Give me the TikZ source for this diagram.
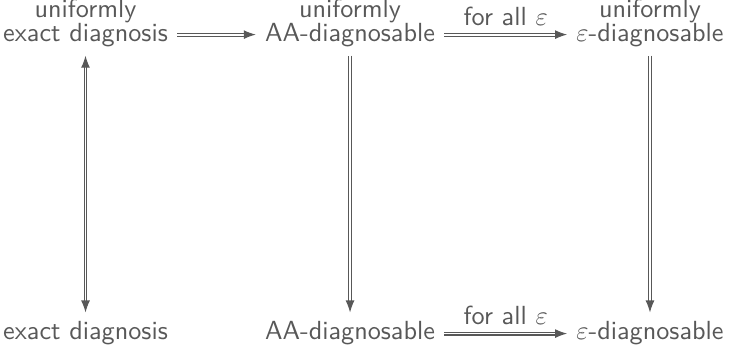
\documentclass[tikz,border=0pt]{standalone}
\usepackage{tikz}
\usepackage{amsmath, amsfonts}
\usetikzlibrary{arrows.meta}

\begin{document}
\begin{tikzpicture}
\definecolor{diagram_color}{RGB}{88,88,88}

\tikzset{
  cell_text/.style={font=\sffamily, text=diagram_color, anchor=base},
  top_text/.style={font=\sffamily, text=diagram_color, anchor=base, inner sep=0pt},
  implies_arrow/.style={draw=diagram_color, line width=0.4pt, double=white, double distance=0.7pt, -{Latex[length=4.6pt, width=3.4pt]}},
  iff_arrow/.style={implies_arrow, {Latex[length=4.6pt, width=3.4pt]}-{Latex[length=4.6pt, width=3.4pt]}}
}

\useasboundingbox (0.000000, 0.000000) rectangle (9.778000, 4.681000);

\node[top_text] (uniform_exact_word) at (1.147000, 4.440000) {uniformly};
\node[top_text] (uniform_aa_word) at (4.695000, 4.440000) {uniformly};
\node[top_text] (uniform_eps_word) at (8.718000, 4.440000) {uniformly};

\node[cell_text] (uniform_exact) at (1.147000, 4.131000) {exact diagnosis};
\node[cell_text] (uniform_aa) at (4.695000, 4.131000) {AA-diagnosable};
\node[cell_text] (uniform_eps) at (8.718000, 4.131000) {$\varepsilon$-diagnosable};

\node[cell_text] (exact) at (1.147000, 0.121000) {exact diagnosis};
\node[cell_text] (aa) at (4.695000, 0.121000) {AA-diagnosable};
\node[cell_text] (eps) at (8.718000, 0.121000) {$\varepsilon$-diagnosable};

\draw[implies_arrow] (uniform_exact) -- (uniform_aa);
\draw[implies_arrow] (uniform_aa) -- node[above, font=\sffamily, text=diagram_color] {for all $\varepsilon$} (uniform_eps);
\draw[implies_arrow] (aa) -- node[above, font=\sffamily, text=diagram_color] {for all $\varepsilon$} (eps);

\draw[iff_arrow] (exact) -- (uniform_exact);
\draw[implies_arrow] (uniform_aa) -- (aa);
\draw[implies_arrow] (uniform_eps) -- (eps);

\end{tikzpicture}
\end{document}
